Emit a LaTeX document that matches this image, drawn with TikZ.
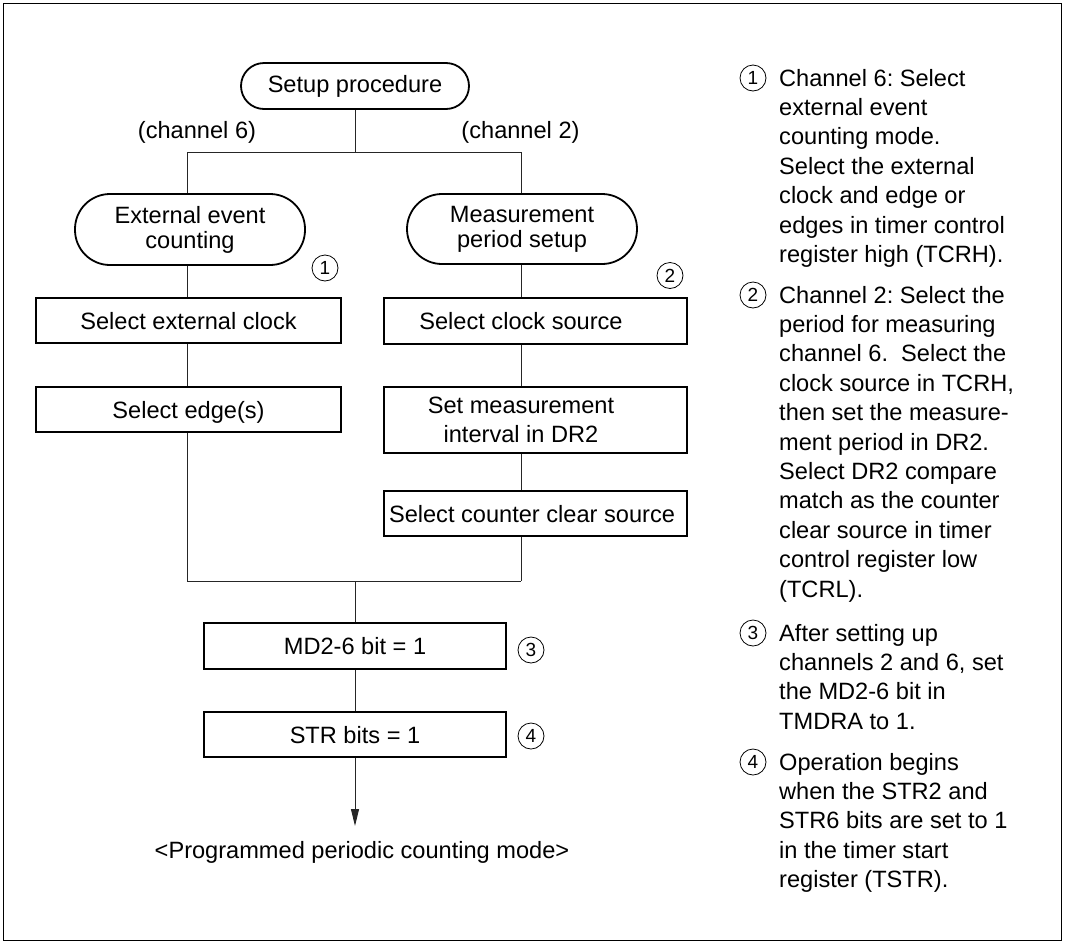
\documentclass[tikz,border=0pt]{standalone}
\usepackage{fontspec}
\setmainfont{Liberation Sans}
\usetikzlibrary{arrows.meta}
\newcommand{\rsh}[1]{\hspace*{-#1}}
\frenchspacing
\begin{document}
\begin{tikzpicture}[x=1pt,y=-1pt,
  every node/.style={inner sep=0pt, font=\fontsize{23.6}{25}\selectfont},
  pill/.style={draw, line width=1.8pt, minimum width=230pt, minimum height=71pt, rounded corners=35pt, align=center},
  procbox/.style={draw, line width=1.8pt, minimum width=304pt, minimum height=45pt, text height=17pt, text depth=0pt},
  conn/.style={draw=black!85, line width=1pt},
  num/.style={draw, circle, line width=0.8pt, minimum size=26pt, font=\fontsize{19}{19}\selectfont, text height=13.6pt, text depth=0pt},
  note/.style={anchor=base west, font=\fontsize{23.6}{29.4}\selectfont}]
\useasboundingbox (0,0) rectangle (1066,943);
\draw[line width=1.5pt] (3.5,3.5) rectangle (1061.5,940.5);

% top
\node[draw, line width=1.8pt, minimum width=228pt, minimum height=46pt, rounded corners=23pt] (setup) at (355,86) {Setup procedure};
\node[anchor=base] (ch6) at (197,138) {(channel 6)};
\node[anchor=base] (ch2) at (520.5,138) {(channel 2)};

\node[pill] (lpill) at (190,229.5) {External event\\counting};
\node[pill, minimum height=70pt] (rpill) at (522,229) {Measurement\\period setup};

\node[num] (n1) at (325,268) {1};
\node[num] (n2) at (670,275.5) {2};

% left column
\node[procbox, minimum width=305pt] (lb1) at (188.5,320.5) {Select external clock};
\node[procbox, minimum width=305pt] (lb2) at (188.5,409.5) {Select edge(s)};

% right column
\node[procbox, minimum width=303pt, minimum height=46pt] (rb1) at (535.5,321) {\rsh{29pt}Select clock source};
\node[draw, line width=1.8pt, minimum width=303pt, minimum height=66pt, align=center, font=\fontsize{23.6}{29}\selectfont] (rb2) at (535.5,420) {\rsh{29pt}Set measurement\\\rsh{29pt}interval in DR2};
\node[procbox, minimum width=303pt] (rb3) at (535.5,513.5) {\rsh{7pt}Select counter clear source};

% bottom
\node[procbox, minimum width=302pt, minimum height=46pt] (md) at (355,646) {MD2-6 bit = 1};
\node[procbox, minimum width=302pt] (str) at (355,734.5) {STR bits = 1};
\node[num] (n3) at (531,650) {3};
\node[num] (n4) at (531,736) {4};
\node[anchor=base] (prog) at (362,858) {<Programmed periodic counting mode>};

% connector points
\coordinate (topL) at (187,152);
\coordinate (topR) at (521,152);
\coordinate (botL) at (187,581);
\coordinate (botR) at (521,581);
\coordinate (botC) at (355,581);
\coordinate (endc) at (355,826);

\draw[conn] (setup.south) -- (setup.south |- topL);
\draw[conn] (topL) -- (topR);
\draw[conn] (topL) -- (topL |- lpill.north);
\draw[conn] (topR) -- (topR |- rpill.north);
\draw[conn] (topL |- lpill.south) -- (topL |- lb1.north);
\draw[conn] (topL |- lb1.south) -- (topL |- lb2.north);
\draw[conn] (topL |- lb2.south) -- (botL);
\draw[conn] (topR |- rpill.south) -- (topR |- rb1.north);
\draw[conn] (topR |- rb1.south) -- (topR |- rb2.north);
\draw[conn] (topR |- rb2.south) -- (topR |- rb3.north);
\draw[conn] (topR |- rb3.south) -- (botR);
\draw[conn] (botL) -- (botR);
\draw[conn] (botC) -- (md.north);
\draw[conn] (md.south) -- (str.north);
\draw[conn, -{Triangle[length=17pt,width=8pt]}] (str.south) -- (endc);

% notes
\node[num] (m1) at (753,78) {1};
\node[num] (m2) at (753,295) {2};
\node[num] (m3) at (753,633) {3};
\node[num] (m4) at (753,762) {4};
\node[note] (t1) at (779,86) {\parbox[t]{280pt}{\raggedright\fontsize{23.6}{29.4}\selectfont Channel 6: Select\\external event\\counting mode.\\Select the external\\clock and edge or\\edges in timer control\\register high (TCRH).}};
\node[note] (t2) at (779,303) {\parbox[t]{280pt}{\raggedright\fontsize{23.6}{29.4}\selectfont Channel 2: Select the\\period for measuring\\channel 6.\ \ Select the\\clock source in TCRH,\\then set the measure-\\ment period in DR2.\\Select DR2 compare\\match as the counter\\clear source in timer\\control register low\\(TCRL).}};
\node[note] (t3) at (779,641) {\parbox[t]{280pt}{\raggedright\fontsize{23.6}{29.4}\selectfont After setting up\\channels 2 and 6, set\\the MD2-6 bit in\\TMDRA to 1.}};
\node[note] (t4) at (779,770) {\parbox[t]{280pt}{\raggedright\fontsize{23.6}{29.4}\selectfont Operation begins\\when the STR2 and\\STR6 bits are set to 1\\in the timer start\\register (TSTR).}};
\end{tikzpicture}
\end{document}
